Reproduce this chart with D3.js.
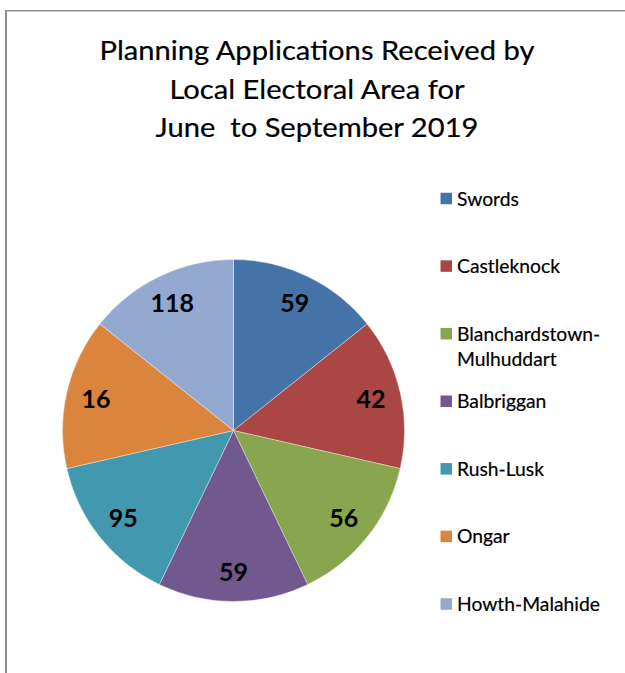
<!DOCTYPE html>
<html><head><meta charset="utf-8">
<script src="https://cdn.jsdelivr.net/npm/d3@7"></script>
<style>body{margin:0;background:#fff}svg{display:block}</style>
</head><body>
<script>
const categories = ["Swords","Castleknock","Blanchardstown-\nMulhuddart","Balbriggan","Rush-Lusk","Ongar","Howth-Malahide"];
const values = [59,42,56,59,95,16,118];
// slice sizes as drawn in the reference (equal sectors)
const sliceShares = [1,1,1,1,1,1,1];
const colors = ["#4572A7","#AA4643","#89A54E","#71588F","#4198AF","#DB843D","#93A9CF"];
const titleLines = ["Planning Applications Received by","Local Electoral Area for","June  to September 2019"];

const W = 625, H = 673;
const svg = d3.select("body").append("svg").attr("width", W).attr("height", H);

// frame
svg.append("line").attr("x1",6).attr("x2",6).attr("y1",10).attr("y2",H).attr("stroke","#8f8f8f").attr("stroke-width",2);
svg.append("line").attr("x1",5).attr("x2",W).attr("y1",10.75).attr("y2",10.75).attr("stroke","#8f8f8f").attr("stroke-width",1.5);

// title (glyphs widened slightly to mimic the original's wider face)
const title = svg.append("g").attr("font-family","Lato, 'Open Sans', sans-serif").attr("font-size",26.5)
  .attr("fill","#000").attr("stroke","#000").attr("stroke-width",0.2);
titleLines.forEach((t,i)=>{
  const tx = title.append("text").attr("x",317).attr("y",60+i*38.5).attr("text-anchor","middle")
    .attr("xml:space","preserve").style("white-space","pre").text(t);
  const w = tx.node().getComputedTextLength();
  tx.attr("textLength", w*1.1).attr("lengthAdjust","spacingAndGlyphs");
});

// pie
const cx = 233.5, cy = 430.5, R = 171;
const data = categories.map((c,i)=>({name:c, value:values[i], share:sliceShares[i], color:colors[i]}));
const pie = d3.pie().sort(null).value(d=>d.share);
const arc = d3.arc().innerRadius(0).outerRadius(R);
const labelArc = d3.arc().innerRadius(141).outerRadius(141);
const g = svg.append("g").attr("transform",`translate(${cx},${cy})`);
const arcs = pie(data);
g.selectAll("path").data(arcs).join("path").attr("d",arc).attr("fill",d=>d.data.color)
  .attr("stroke","#ffffff").attr("stroke-opacity",0.6).attr("stroke-width",0.6);
g.selectAll("text").data(arcs).join("text")
  .attr("transform",d=>`translate(${labelArc.centroid(d)})`)
  .attr("text-anchor","middle").attr("dy","0.36em")
  .attr("font-family","Lato, sans-serif").attr("font-weight","bold").attr("font-size",25).attr("fill","#000")
  .text(d=>d.data.value);

// legend
const ly = d3.scalePoint().domain(categories).range([198.5,604]);
const leg = svg.append("g").attr("font-family","Lato, 'Open Sans', sans-serif").attr("font-size",19.3)
  .attr("fill","#000").attr("stroke","#000").attr("stroke-width",0.2);
data.forEach(d=>{
  const y = ly(d.name);
  leg.append("rect").attr("x",440.5).attr("y",y-5.75).attr("width",11.5).attr("height",11.5).attr("fill",d.color).attr("stroke","none");
  d.name.split("\n").forEach((line,j)=>{
    leg.append("text").attr("x",457).attr("y",y+7+j*25).text(line);
  });
});
</script>
</body></html>
